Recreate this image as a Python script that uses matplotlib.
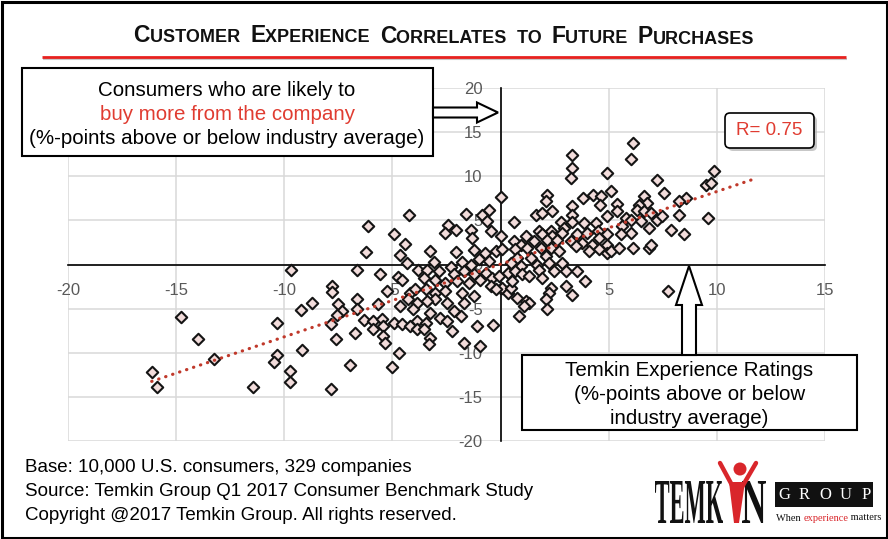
import matplotlib
matplotlib.use("Agg")
import matplotlib.pyplot as plt
import numpy as np
from matplotlib.patches import Rectangle, FancyBboxPatch, Polygon, Circle, PathPatch
from matplotlib.textpath import TextPath
from matplotlib.font_manager import FontProperties
from matplotlib.transforms import Affine2D

plt.rcParams["font.family"] = ["Liberation Sans", "DejaVu Sans"]

# Temkin Experience Rating (x) vs. likely to buy more (y), %-points vs industry average
experience = [
    # far left
    -9.68, -14.78, -14.00, -13.27, -16.13, -15.90, -11.45, -10.34, -10.34, -10.46,
    -9.75, -9.72, -9.21, -8.72, -9.18,
    # -8 .. -4
    -4.23, -6.11, -4.95, -4.41, -6.22, -4.65, -4.31, -3.83, -6.65, -5.57,
    -4.75, -4.54, -7.78, -7.78, -5.26, -6.65, -5.65, -4.18, -3.95, -4.26,
    -4.65, -3.87, -4.03, -7.50, -7.35, -7.58, -7.84, -6.65, -6.30, -5.88,
    -5.49, -5.42, -4.95, -4.57, -4.18, -3.87, -3.87, -5.88, -5.42, -5.34,
    -6.73, -7.62, -4.68, -6.96, -5.03, -7.84,
    # -4 .. 0
    0.00, -0.54, -1.62, -0.85, -0.62, -2.44, -2.04, -2.55, -1.39, -1.31,
    -0.42, 0.00, -3.24, -2.08, -1.23, -0.74, -0.23, 0.08, -3.09, -2.31,
    -1.77, -1.39, -1.00, -0.54, -3.40, -2.85, -2.16, -1.70, -1.23, -0.69,
    -0.39, -0.08, 0.34, -3.55, -3.01, -2.55, -2.01, -1.47, -0.93, -0.46,
    0.08, 0.34, -3.47, -3.01, -2.55, -1.77, -1.23, -0.23, -3.01, -2.47,
    -3.40, -1.70, -2.16, -1.85, -3.24, -2.78, -3.47, -2.47, -1.08, -0.34,
    -2.24, -3.24, -3.32, -1.70, -0.93, -3.55,
    # 0 .. 5
    3.29, 3.32, 3.24, 4.94, 2.16, 2.08, 1.62, 1.93, 2.39, 3.32,
    3.83, 4.29, 4.66, 4.60, 4.94, 0.62, 3.32, 2.78, 3.86, 4.40,
    1.77, 2.31, 2.93, 3.32, 1.16, 1.93, 2.39, 2.85, 3.55, 4.01,
    4.51, 4.94, 0.62, 0.93, 1.54, 2.16, 2.62, 3.24, 3.78, 4.24,
    4.55, 4.94, 0.69, 1.23, 1.85, 2.31, 2.70, 3.47, 4.09, 4.55,
    4.94, 0.77, 1.39, 2.08, 0.46, 0.93, 1.70, 2.24, 2.85, 0.69,
    1.00, 1.31, 1.77, 1.93, 2.47, 3.01, 3.55, 3.89, 3.01, 3.32,
    2.31, 2.24, 2.08, 2.16, 0.46, 0.77, 1.16, 1.31, 1.08, 0.85,
    0.54, 5.09, 5.09,
    # 5 .. 10
    6.10, 6.05, 7.25, 7.56, 9.85, 9.49, 9.72, 8.56, 8.26, 6.64,
    6.79, 6.40, 5.37, 5.40, 5.79, 6.33, 6.64, 6.94, 7.25, 7.48,
    8.26, 9.57, 6.02, 6.48, 5.63, 6.02, 5.56, 6.87, 7.87, 8.49,
    5.48, 6.10, 6.87, 6.94, 7.72,
]
buy_more = [
    -0.64, -5.96, -8.49, -10.75, -12.19, -13.85, -13.89, -6.64, -10.26, -11.02,
    -12.08, -13.32, -5.17, -4.34, -9.70,
    5.66, 4.34, 3.47, 2.34, 1.43, 1.13, 0.19, -0.57, -0.57, -1.13,
    -1.40, -1.70, -2.45, -3.13, -3.02, -3.89, -4.53, -3.21, -2.83, -3.96,
    -4.72, -4.34, -5.09, -4.53, -5.28, -5.77, -6.79, -5.02, -6.30, -6.42,
    -6.23, -6.98, -6.60, -6.79, -6.98, -6.42, -7.36, -7.36, -8.11, -8.94,
    -7.81, -8.49, -10.00, -11.43, -11.62, -14.15,
    7.66, 6.23, 5.77, 5.66, 4.91, 4.42, 3.96, 3.58, 3.96, 3.02,
    3.77, 3.28, 1.51, 1.43, 1.62, 1.32, 1.51, 1.70, 0.26, -0.26,
    0.26, 0.00, 0.57, 0.38, -0.57, -0.75, -1.13, -0.75, -1.13, -0.94,
    -1.51, -1.25, -0.94, -1.51, -1.70, -2.15, -1.89, -2.08, -1.77, -2.45,
    -2.64, -3.21, -2.83, -3.21, -3.02, -3.21, -3.58, -2.83, -3.96, -4.34,
    -4.15, -4.34, -5.28, -5.85, -5.47, -6.04, -6.60, -6.42, -6.98, -6.91,
    -7.55, -8.30, -9.06, -8.94, -9.25, -7.28,
    12.45, 10.94, 9.81, 10.38, 7.92, 7.17, 5.66, 5.85, 6.11, 6.60,
    7.55, 7.92, 7.74, 6.79, 5.47, 4.83, 5.66, 4.83, 4.72, 4.72,
    3.77, 3.77, 4.15, 4.83, 3.21, 3.40, 3.21, 3.58, 3.40, 3.58,
    3.77, 3.40, 2.64, 2.26, 2.64, 2.83, 2.83, 2.64, 2.45, 2.26,
    3.02, 2.26, 1.70, 1.89, 1.89, 1.89, 1.51, 2.08, 1.51, 1.70,
    1.32, 0.75, 0.75, 0.94, 0.19, -0.19, 0.00, 0.19, 0.19, -0.75,
    -1.13, -1.32, -0.57, -1.51, -0.75, -0.75, -0.75, -1.89, -2.45, -3.40,
    -2.64, -3.21, -3.96, -5.09, -2.64, -3.77, -4.15, -4.34, -4.72, -5.85,
    -1.89, 8.30, 1.51,
    13.77, 11.96, 9.62, 8.11, 10.57, 9.06, 9.25, 7.55, 7.17, 7.74,
    6.98, 6.79, 6.91, 6.04, 5.28, 6.23, 6.04, 5.85, 5.09, 5.47,
    5.66, 5.28, 5.09, 4.91, 4.34, 3.58, 3.40, 4.15, 3.96, 3.40,
    1.89, 1.89, 1.89, 2.26, -3.02,
]

x_ticks = [-20, -15, -10, -5, 0, 5, 10, 15]
x_labels = ["-20", "-15", "-10", "-5", "0", "5", "10", "15"]
y_ticks = [-20, -15, -10, -5, 0, 5, 10, 15, 20]
y_labels = ["-20", "-15", "-10", "-5", "0", "5", "10", "15", "20"]

r_text = "R= 0.75"
title_words = ["Customer", "Experience", "Correlates", "to", "Future", "Purchases"]
y_box_lines = ["Consumers who are likely to", "buy more from the company",
               "(%-points above or below industry average)"]
x_box_lines = ["Temkin Experience Ratings", "(%-points above or below",
               "industry average)"]
footer_lines = ["Base: 10,000 U.S. consumers, 329 companies",
                "Source: Temkin Group Q1 2017 Consumer Benchmark Study",
                "Copyright @2017 Temkin Group. All rights reserved."]

RED = "#e03c31"
W, H = 888, 539
fig = plt.figure(figsize=(W / 100, H / 100), dpi=100)

# main scatter axes
ax = fig.add_axes([68 / W, 1 - 441 / H, (825 - 68) / W, (441 - 88) / H])
ax.set_xlim(-20, 15)
ax.set_ylim(-20, 20)
ax.set_xticks(x_ticks, x_labels)
ax.set_yticks(y_ticks, y_labels)
ax.grid(True, color="#d9d9d9", lw=1.1)
ax.set_axisbelow(True)
ax.spines[["top", "right"]].set_visible(False)
ax.spines["left"].set_position(("data", 0))
ax.spines["bottom"].set_position(("data", 0))
for s in ["left", "bottom"]:
    ax.spines[s].set_linewidth(1.2)
    ax.spines[s].set_color("black")
ax.tick_params(length=0, pad=13, labelsize=12, labelcolor="#595959")

xs = np.array(experience)
ys = np.array(buy_more)
ax.scatter(xs, ys, marker="D", s=34, facecolor="#f2dcdb", edgecolor="#141414",
           linewidth=1.5, zorder=3)

slope, icpt = np.polyfit(xs, ys, 1)
tx = np.array([xs.min(), xs.max() + 2])
ax.plot(tx, slope * tx + icpt, color="#c0392b", lw=2.3, linestyle=(0, (0.1, 2.2)),
        dash_capstyle="round", zorder=4)

# overlay in pixel coordinates for boxes, arrows, title, logo
pix = fig.add_axes([0, 0, 1, 1], zorder=5)
pix.set_xlim(0, W)
pix.set_ylim(H, 0)
pix.axis("off")

pix.add_patch(Rectangle((1.5, 1.5), W - 3, H - 3, fill=False, ec="black", lw=2.2,
                        clip_on=False))

# title in small caps
parts = []
for i, w in enumerate(title_words):
    gap = "  " if i < len(title_words) - 1 else ""
    if w[0].isupper():
        parts.append((w[0], 16.5))
        parts.append((w[1:].upper() + gap, 13))
    else:
        parts.append((w.upper() + gap, 13))

texts = []
prev = None
for s, size in parts:
    if prev is None:
        t = pix.text(137, 42, s, fontsize=size, fontweight="bold", color="#111111",
                     va="baseline", ha="left")
    else:
        t = pix.annotate(s, xy=(1, 0), xycoords=prev[0], xytext=(0, 0.212 * prev[1]),
                         textcoords="offset points", fontsize=size, fontweight="bold",
                         color="#111111", va="baseline", ha="left")
    texts.append(t)
    prev = (t, size)

pix.plot([43, 847], [58.5, 58.5], color="#c8c8c8", lw=1.5, solid_capstyle="butt")
pix.plot([42, 846], [56.5, 56.5], color="#e8211f", lw=2, solid_capstyle="butt")

# y-axis explanation box + arrow
pix.add_patch(Rectangle((22, 68), 411, 88, fc="white", ec="black", lw=1.5))
for k, (line, yy) in enumerate(zip(y_box_lines, [90, 114, 139])):
    pix.text(227, yy, line, fontsize=14.8, ha="center", va="center",
             color=RED if k == 1 else "black")
pix.add_patch(Polygon([(433, 107.5), (477, 107.5), (477, 102.5), (498, 112.5),
                       (477, 122.5), (477, 117.5), (433, 117.5)],
                      closed=True, fc="white", ec="black", lw=1.5))

# x-axis explanation box + arrow
pix.add_patch(Rectangle((522, 355), 335, 75, fc="white", ec="black", lw=1.5))
for line, yy in zip(x_box_lines, [370, 394, 419]):
    pix.text(689.5, yy, line, fontsize=14.8, ha="center", va="center", color="black")
pix.add_patch(Polygon([(682, 355), (682, 305), (676, 305), (689, 266), (702, 305),
                       (696, 305), (696, 355)],
                      closed=True, fc="white", ec="black", lw=1.5))

# R box
pix.add_patch(FancyBboxPatch((728, 116), 89, 35, boxstyle="round,pad=0,rounding_size=5",
                             fc="#b0b0b0", ec="none", alpha=0.7))
pix.add_patch(FancyBboxPatch((725, 113), 89, 35, boxstyle="round,pad=0,rounding_size=5",
                             fc="white", ec="black", lw=1.2))
pix.text(769.5, 130.5, r_text, fontsize=13.5, color=RED, ha="center", va="center")

# footer
for line, yy in zip(footer_lines, [468, 492, 516]):
    pix.text(25, yy, line, fontsize=13.5, ha="left", va="center", color="black")


# logo
def path_text(s, x0, x1, y_top, y_bot, color, weight="bold"):
    tp = TextPath((0, 0), s, size=1,
                  prop=FontProperties(family="Liberation Serif", weight=weight))
    ext = tp.get_extents()
    sx = (x1 - x0) / ext.width
    sy = (y_bot - y_top) / ext.height
    tr = Affine2D().translate(-ext.x0, -ext.y0).scale(sx, -sy).translate(x0, y_bot)
    pix.add_patch(PathPatch(tr.transform_path(tp), fc=color, ec="none", lw=0))


LOGO_RED = "#d9262b"
path_text("TEMK", 655, 723, 481, 523, "#111111")
path_text("N", 742, 766, 481, 523, "#111111")
pix.plot([720, 733], [463, 487], color=LOGO_RED, lw=3.2, solid_capstyle="round")
pix.plot([756, 742], [463, 487], color=LOGO_RED, lw=3.2, solid_capstyle="round")
pix.add_patch(Polygon([(729, 482), (745, 482), (739, 523), (734, 523)],
                      closed=True, fc=LOGO_RED, ec="none"))
pix.add_patch(Circle((740, 469), 6.5, fc=LOGO_RED, ec="none"))

pix.add_patch(Rectangle((775, 482), 98, 25, fc="#111111", ec="none"))
for ch, gx in zip("GROUP", [784, 804, 825, 846, 866]):
    pix.text(gx, 495, ch, fontsize=12, family="Liberation Serif", color="white",
             ha="center", va="center")
tag = [("When ", "#111111"), ("experience", LOGO_RED), (" matters", "#111111")]
prev_t = None
for s, c in tag:
    if prev_t is None:
        prev_t = pix.text(776, 521, s, fontsize=7.5, family="Liberation Serif", color=c,
                          ha="left", va="baseline")
    else:
        prev_t = pix.annotate(s, xy=(1, 0), xycoords=prev_t, xytext=(0, 0.216 * 7.5),
                              textcoords="offset points", fontsize=7.5,
                              family="Liberation Serif", color=c, ha="left",
                              va="baseline")

# center the title
fig.canvas.draw()
rend = fig.canvas.get_renderer()
x_left = texts[0].get_window_extent(rend).x0
x_right = texts[-1].get_window_extent(rend).x1
shift = W / 2 - (x_left + x_right) / 2
texts[0].set_x(texts[0].get_position()[0] + shift)

fig.savefig("out.png", dpi=100)
